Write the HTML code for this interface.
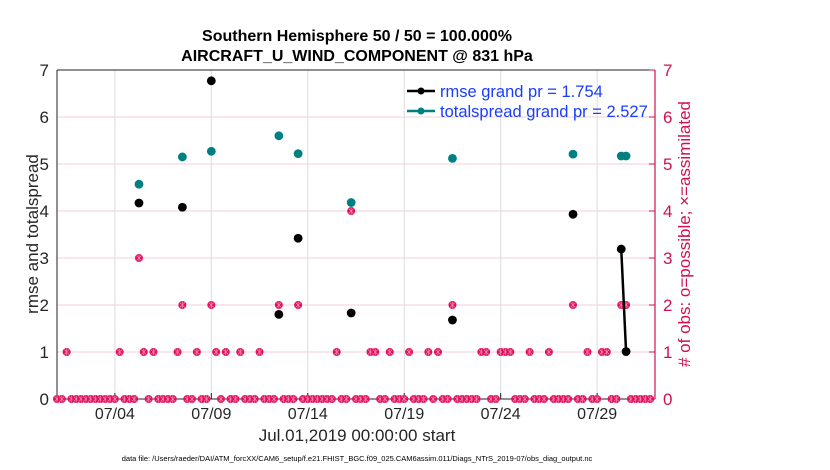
<!DOCTYPE html>
<html><head><meta charset="utf-8"><style>
body{margin:0;background:#fff;}
svg{display:block;font-family:"Liberation Sans",sans-serif;}
</style></head><body>
<svg id="chart" width="830" height="470" viewBox="0 0 830 470"></svg>
<script>
// ---- data ----
var tickLabels=["07/04","07/09","07/14","07/19","07/24","07/29"];
var tickDays=[3,8,13,18,23,28];
var yTicks=[0,1,2,3,4,5,6,7];
var evalIdx=[17,26,32,46,50,61,82,107,117,118];
var rmseVals=[4.17,4.08,6.77,1.80,3.42,1.83,1.68,3.93,3.19,1.01];
var spreadVals=[4.57,5.15,5.27,5.60,5.22,4.18,5.12,5.21,5.17,5.17];
var obsCount1=[2,13,18,20,25,29,33,35,38,42,58,65,66,69,73,77,79,88,89,92,93,94,98,102,110,113,114,118];
var obsIdxHigh=[17,26,32,46,50,61,82,107,117,118];
var obsValHigh=[3,2,2,2,2,4,2,2,2,2];
var nTimes=124;

var NS="http://www.w3.org/2000/svg";
var svg=document.getElementById('chart');
var L=57,R=655,T=70,B=399;
function xDay(d){return L+(R-L)*d/31;}
function xIdx(i){return xDay(i*0.25);}
function yV(v){return B-(B-T)*v/7;}
function mk(tag,attrs,parent){var e=document.createElementNS(NS,tag);for(var k in attrs)e.setAttribute(k,attrs[k]);(parent||svg).appendChild(e);return e;}

var bg=mk('rect',{x:L,y:T,width:R-L,height:B-T,fill:'#fff'});


yTicks.forEach(function(v){if(v>0&&v<7){var g=mk('line',{x1:L,x2:R,y1:yV(v),y2:yV(v),stroke:'#f4cfdc','stroke-width':1});

}});
tickDays.forEach(function(d,i){var g=mk('line',{x1:xDay(d),x2:xDay(d),y1:T,y2:B,stroke:'#dcdcdc','stroke-width':1});


var t=mk('line',{x1:xDay(d),x2:xDay(d),y1:B,y2:B-6,stroke:'#222'});


var tx=mk('text',{x:xDay(d),y:B+20,'font-size':16,fill:'#262626','text-anchor':'middle'});tx.textContent=tickLabels[i];

});
var ax=mk('path',{d:'M'+L+' '+T+'H'+R+'M'+L+' '+T+'V'+B+'H'+R,stroke:'#222',fill:'none','stroke-width':1});


var ra=mk('line',{x1:R,x2:R,y1:T,y2:B,stroke:'#d0104f','stroke-width':1.2});


yTicks.forEach(function(v){
 var a=mk('text',{x:L-8,y:yV(v)+6,'font-size':17,fill:'#262626','text-anchor':'end'});a.textContent=v;
 
 
 var b=mk('text',{x:R+8,y:yV(v)+6,'font-size':17,fill:'#d0104f'});b.textContent=v;
 
 
 mk('line',{x1:R,x2:R-6,y1:yV(v),y2:yV(v),stroke:'#d0104f'});
});
function obsMarker(x,y){var g=mk('g',{});
 
 
 mk('circle',{cx:x,cy:y,r:4,fill:'#e0115f'},g);
 mk('path',{d:'M'+(x-2.5)+' '+(y-2.5)+'L'+(x+2.5)+' '+(y+2.5)+'M'+(x-2.5)+' '+(y+2.5)+'L'+(x+2.5)+' '+(y-2.5)+'M'+x+' '+(y-3.5)+'V'+(y+3.5),stroke:'#f38aae','stroke-width':0.7},g);}
for(var i=0;i<nTimes;i++){
 var v=0;var k=obsCount1.indexOf(i);if(k>=0)v=1;var h=obsIdxHigh.indexOf(i);if(h>=0)v=obsValHigh[h];
 if(k>=0&&h>=0)obsMarker(xIdx(i),yV(1));
 obsMarker(xIdx(i),yV(v));
}
function series(vals,color,name){
 var g=mk('g',{});
 
 
 for(var j=0;j<vals.length-1;j++){if(evalIdx[j+1]-evalIdx[j]==1)mk('line',{x1:xIdx(evalIdx[j]),y1:yV(vals[j]),x2:xIdx(evalIdx[j+1]),y2:yV(vals[j+1]),stroke:color,'stroke-width':2.5},g);}
 vals.forEach(function(v,j){var c=mk('circle',{cx:xIdx(evalIdx[j]),cy:yV(v),r:4.4,fill:color},g);
 
 });
}
series(spreadVals,'#008080','totalspread-series');
series(rmseVals,'#000','rmse-series');
var lg=mk('g',{});


[['rmse grand pr = 1.754','#000',91],['totalspread grand pr = 2.527','#008080',111]].forEach(function(e){
 mk('line',{x1:407,x2:435,y1:e[2],y2:e[2],stroke:e[1],'stroke-width':2.5},lg);
 mk('circle',{cx:421,cy:e[2],r:3.5,fill:e[1]},lg);
 var t=mk('text',{x:440,y:e[2]+6,'font-size':16.5,fill:'#1a3cff'},lg);t.textContent=e[0];
 
 
});
function txt(s,attrs,name){var t=mk('text',attrs);t.textContent=s;
 
 return t;}
txt('Southern Hemisphere 50 / 50 = 100.000%',{x:357,y:41,'font-size':16,'font-weight':'bold','text-anchor':'middle',fill:'#000'},'chart-title');
txt('AIRCRAFT_U_WIND_COMPONENT @ 831 hPa',{x:357,y:61,'font-size':16,'font-weight':'bold','text-anchor':'middle',fill:'#000'},'chart-subtitle');
txt('rmse and totalspread',{x:0,y:0,'font-size':17,fill:'#262626','text-anchor':'middle',transform:'translate(38,234) rotate(-90)'},'y-axis-title');
txt('# of obs: o=possible; \u00d7=assimilated',{x:0,y:0,'font-size':17,fill:'#d0104f','text-anchor':'middle',transform:'translate(690,234) rotate(-90)'},'right-axis-title');
txt('Jul.01,2019 00:00:00 start',{x:357,y:441,'font-size':17,fill:'#262626','text-anchor':'middle'},'x-axis-title');
txt('data file: /Users/raeder/DAI/ATM_forcXX/CAM6_setup/f.e21.FHIST_BGC.f09_025.CAM6assim.011/Diags_NTrS_2019-07/obs_diag_output.nc',{x:357,y:461,'font-size':7.5,fill:'#000','text-anchor':'middle'},'data-file-note');
</script>
</body></html>
